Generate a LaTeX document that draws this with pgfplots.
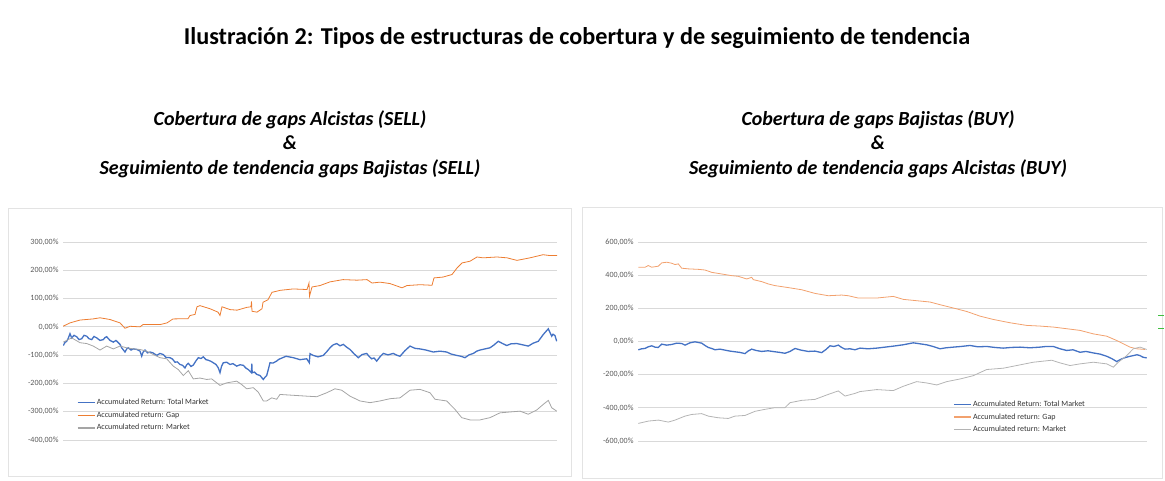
\documentclass[border=0pt]{standalone}
\usepackage{fontspec}
\setmainfont{Carlito}
\usepackage{pgfplots}
\pgfplotsset{compat=1.18}
\definecolor{cblue}{HTML}{4472C4}
\definecolor{corange}{HTML}{ED7D31}
\definecolor{corangel}{HTML}{F2A16E}
\definecolor{cgrey}{HTML}{A5A5A5}
\definecolor{cgreyl}{HTML}{B4B4B4}
\definecolor{gridc}{HTML}{D9D9D9}
\definecolor{tickc}{HTML}{595959}
\definecolor{legc}{HTML}{333333}
\definecolor{framec}{HTML}{E3E3E3}
\pgfplotsset{
  excel/.style={
    scale only axis,
    axis line style={draw=none},
    xtick=\empty,
    ytick style={draw=none},
    ymajorgrids,
    grid style={draw=gridc, line width=0.7pt},
    yticklabel style={font=\fontsize{8}{9}\selectfont, text=tickc, xshift=-1pt},
    legend cell align=left,
    legend image post style={line width=1.2pt},
    legend style={draw=none, fill=none, anchor=north west, inner sep=0pt,
      font=\fontsize{8}{9}\selectfont, row sep=2.6pt,
      nodes={inner sep=1.5pt, text=legc}},
  }
}
\begin{document}
\begin{tikzpicture}[x=1pt,y=1pt]
\path[use as bounding box] (0,0) rectangle (1165,481);
% title
\node[font=\bfseries\fontsize{24.2}{28}\selectfont] at (577,443) {Ilustración 2: Tipos de estructuras de cobertura y de seguimiento de tendencia};
\node[font=\bfseries\itshape\fontsize{20}{24.5}\selectfont, align=center] at (290,337) {Cobertura de gaps Alcistas (SELL)\\\&\\Seguimiento de tendencia gaps Bajistas (SELL)};
\node[font=\bfseries\itshape\fontsize{20}{24.5}\selectfont, align=center] at (878,337) {Cobertura de gaps Bajistas (BUY)\\\&\\Seguimiento de tendencia gaps Alcistas (BUY)};
% frames
\draw[framec, line width=0.8pt] (8,5) rectangle (571,273);
\draw[framec, line width=0.8pt] (582,3) rectangle (1162,274);
\draw[green!50!gray, line width=0.8pt] (1158,166) -- (1164,166);
\draw[green!50!gray, line width=0.8pt] (1158,153) -- (1164,153);

\begin{axis}[excel, at={(63pt,239pt)}, anchor=north west, width=494pt, height=198pt,
  xmin=63, xmax=557, ymin=-400, ymax=300,
  ytick={-400,-300,-200,-100,0,100,200,300},
  yticklabels={{-400,00\%},{-300,00\%},{-200,00\%},{-100,00\%},{0,00\%},{100,00\%},{200,00\%},{300,00\%}},
  legend style={at={(0.028,0.215)}}]
\addplot[color=cblue, line width=1.3pt] coordinates {
(63.3,-66)(65,-55)(66.7,-51)(68.3,-40)(70,-24)(71.7,-39)(74,-30)(76.7,-35)(79,-45)(81.7,-42)(84,-30)(86.7,-33)(89,-42)(91.7,-45)(94,-34)(96.7,-39)(100,-48)(103.3,-45)(105,-38)(106.7,-35)(110,-48)(113.3,-54)(116,-48)(118.3,-56)(120,-62)(121.7,-74)(123,-80)(125,-89)(126.7,-78)(128.3,-74)(131,-82)(133.3,-78)(137,-80)(140,-86)(141.7,-104)(143,-90)(145,-82)(147.5,-92)(150,-89)(153,-92)(156.7,-101)(160,-94)(163.3,-98)(166,-108)(170,-109)(172.5,-114)(175,-125)(177.5,-124)(180,-133)(182.5,-136)(185,-145)(186.7,-134)(188.3,-129)(191,-140)(193.3,-135)(196,-120)(198.3,-109)(201,-112)(203.3,-106)(206,-116)(208.3,-118)(211,-122)(213.3,-127)(216,-133)(218.3,-145)(220,-162)(221.5,-140)(223.3,-127)(226.7,-125)(230,-133)(233,-130)(236.7,-139)(240,-134)(243.3,-136)(246,-146)(248.3,-151)(251.5,-162)(251.8,-130)(252.2,-162)(254.5,-160)(256.7,-168)(260,-172)(263.3,-186)(265,-178)(266.7,-172)(268.5,-148)(270,-127)(273,-128)(276.7,-121)(278.3,-116)(280,-113)
(286,-104)(293.3,-109)(300,-116)(306.7,-113)(309.3,-127)(310,-95)(313.3,-101)(318,-106)(323.3,-101)(326.7,-88)(330,-74)(333,-64)(336.7,-59)(340,-67)(343.3,-62)(346.7,-72)(350,-80)(354,-95)(358.3,-109)(362,-98)(366.7,-94)(369,-104)(371.7,-113)(374,-110)(376.7,-121)(380,-106)(383.3,-94)(388,-99)(393.3,-94)(396.7,-100)(400,-104)(405,-84)(410,-68)(415,-76)(420,-78)(426,-82)(433.3,-89)(440,-86)(446.7,-89)(451,-96)(456.7,-101)(461,-104)(465,-109)(469,-99)(473.3,-94)(476.7,-86)(480,-82)(485,-78)(490,-74)(494,-64)(498.3,-51)(502,-58)(506.7,-66)(511,-60)(516.7,-59)(522,-63)(528.3,-68)(533,-58)(538.3,-51)(541,-38)(543.3,-27)(546,-16)(548.3,-7)(550,-20)(551.7,-33)(553,-26)(555,-31)(556.7,-51)};
\addlegendentry{Accumulated Return: Total Market}
\addplot[color=corange, line width=0.8pt] coordinates {
(63,2)(70,14)(80,24)(93,28)(100,32)(110,26)(120,14)(125,-5)(130,2)(140,0)
(143,8)(160,8)(167,14)(173,28)(188,29)(190,40)(195,44)(197,71)(200,75)(210,64)
(218,52)(220,40)(222,71)(230,61)(237,59)(247,69)(251,71)(251.5,90)(252,55)(257,52)
(262,64)(263,87)(268,96)(272,122)(280,129)(293,134)(307,132)(309,155)(309.5,108)(312,141)
(320,146)(330,159)(343,167)(357,165)(367,167)(372,155)(380,158)(390,153)(402,138)(407,146)
(420,149)(432,147)(434,173)(443,176)(452,185)(457,208)(462,226)(470,232)(477,247)(483,244)
(497,247)(507,244)(517,235)(530,244)(543,255)(550,252)(557,252)};
\addlegendentry{Accumulated return: Gap}
\addplot[color=cgrey, line width=0.8pt] coordinates {
(63.3,-54)(68.3,-45)(71.7,-39)(80,-56)(86.7,-59)(93.3,-68)(100,-82)(106.7,-68)(113.3,-78)(120,-68)
(126.7,-74)(133.3,-78)(140,-80)(146.7,-86)(153.3,-98)(160,-109)(166.7,-113)(173.3,-139)(178.3,-151)(183.3,-172)
(188.3,-155)(193.3,-184)(200,-181)(206.7,-186)(211.7,-184)(220,-207)(226.7,-198)(236.7,-192)(241.7,-204)(246.7,-219)
(253.3,-215)(258.3,-231)(263.3,-262)(266.7,-262)(271.7,-251)(276.7,-256)(280,-239)(293.3,-242)(306.7,-245)(316.7,-247)
(326.7,-233)(335,-219)(341.7,-224)(350,-245)(360,-262)(370,-268)(380,-262)(390,-254)(400,-251)(410,-224)
(420,-221)(430,-233)(435,-256)(446.7,-262)(455,-292)(461.7,-321)(470,-329)(480,-329)(490,-321)(500,-304)
(510,-301)(520,-298)(528.3,-309)(536.7,-294)(543.3,-274)(548.3,-260)(551.7,-286)(556.7,-298)};
\addlegendentry{Accumulated return: Market}
\end{axis}

\begin{axis}[excel, at={(638pt,239pt)}, anchor=north west, width=509pt, height=199pt,
  xmin=638, xmax=1147, ymin=-600, ymax=600,
  ytick={-600,-400,-200,0,200,400,600},
  yticklabels={{-600,00\%},{-400,00\%},{-200,00\%},{0,00\%},{200,00\%},{400,00\%},{600,00\%}},
  legend style={at={(0.619,0.21)}}]
\addplot[color=cblue, line width=1.3pt] coordinates {
(638.3,-50)(641.7,-44)(645,-42)(648.3,-32)(651.7,-26)(655,-34)(658.3,-36)(661.7,-16)(666.7,-22)(671.7,-18)(676.7,-10)(681.7,-12)(685,-22)(690,-8)(695,-2)(698.3,-6)(701.7,-10)(705,-24)(708.3,-36)(711.7,-42)(715,-50)(720,-46)(725,-52)(730,-58)(735,-62)(740,-66)(745,-73)(748,-58)(751.7,-46)(756,-54)(761.7,-60)(768,-56)(775,-62)(780,-66)(785,-71)(790,-60)(795,-42)(801,-52)(808.3,-60)(815,-58)(821.7,-67)(826,-48)(830,-26)(834,-30)(838.3,-22)(841.7,-36)(845,-46)(850,-44)(855,-50)(860,-40)(868,-44)(876.7,-40)(885,-34)(893.3,-28)(903,-20)(913.3,-8)(920,-14)(926.7,-20)(933,-30)(940,-44)(946,-38)(953.3,-34)(961,-30)(970,-24)(978,-32)(986.7,-30)(995,-36)(1003.3,-40)(1011,-36)(1020,-34)(1030,-38)(1040,-34)(1046,-30)(1053.3,-30)(1060,-44)(1066.7,-54)(1073,-50)(1080,-65)(1086,-60)(1093.3,-69)(1100,-76)(1106.7,-89)(1112,-104)(1116.7,-121)(1120,-110)(1123.3,-101)(1128,-92)(1133.3,-85)(1137,-80)(1140,-85)(1143,-95)(1146.7,-99)};
\addlegendentry{Accumulated Return: Total Market}
\addplot[color=corangel, line width=0.8pt] coordinates {
(638.3,448)(645,448)(648.3,458)(651.7,448)(658.3,454)(661.7,474)(666.7,478)(671.7,472)(675,464)(678.3,468)
(681.7,442)(688.3,438)(698.3,435)(705,431)(711.7,417)(721.7,407)(731.7,397)(738.3,393)(746.7,377)(751.7,387)
(753.3,373)(761.7,361)(768.3,347)(775,337)(788.3,325)(801.7,312)(815,290)(828.3,276)(841.7,280)(848.3,276)
(858.3,262)(876.7,262)(893.3,272)(903.3,254)(916.7,246)(930,238)(940,222)(953.3,202)(966.7,181)(980,153)
(993.3,133)(1010,113)(1026.7,97)(1040,93)(1053.3,87)(1066.7,77)(1080,67)(1093.3,46)(1106.7,32)(1116.7,6)
(1123.3,-14)(1130,-34)(1136.7,-44)(1145,-48)};
\addlegendentry{Accumulated return: Gap}
\addplot[color=cgreyl, line width=0.8pt] coordinates {
(638.3,-494)(648.3,-480)(658.3,-474)(668.3,-486)(675,-474)(685,-450)(691.7,-440)(701.7,-435)(708.3,-450)(718.3,-460)
(728.3,-464)(735,-450)(745,-446)(755,-421)(765,-409)(775,-399)(785,-399)(790,-369)(801.7,-355)(815,-349)
(828.3,-319)(838.3,-298)(845,-329)(855,-313)(860,-302)(876.7,-290)(893.3,-296)(903.3,-270)(916.7,-242)(926.7,-250)
(936.7,-262)(946.7,-242)(960,-226)(973.3,-206)(986.7,-169)(1003.3,-161)(1016.7,-145)(1033.3,-125)(1051.7,-113)(1060,-129)
(1070,-145)(1080,-135)(1093.3,-125)(1106.7,-135)(1113.3,-155)(1118.3,-125)(1126.7,-85)(1133.3,-44)(1140,-34)(1146.7,-48)};
\addlegendentry{Accumulated return: Market}
\end{axis}
\end{tikzpicture}
\end{document}
